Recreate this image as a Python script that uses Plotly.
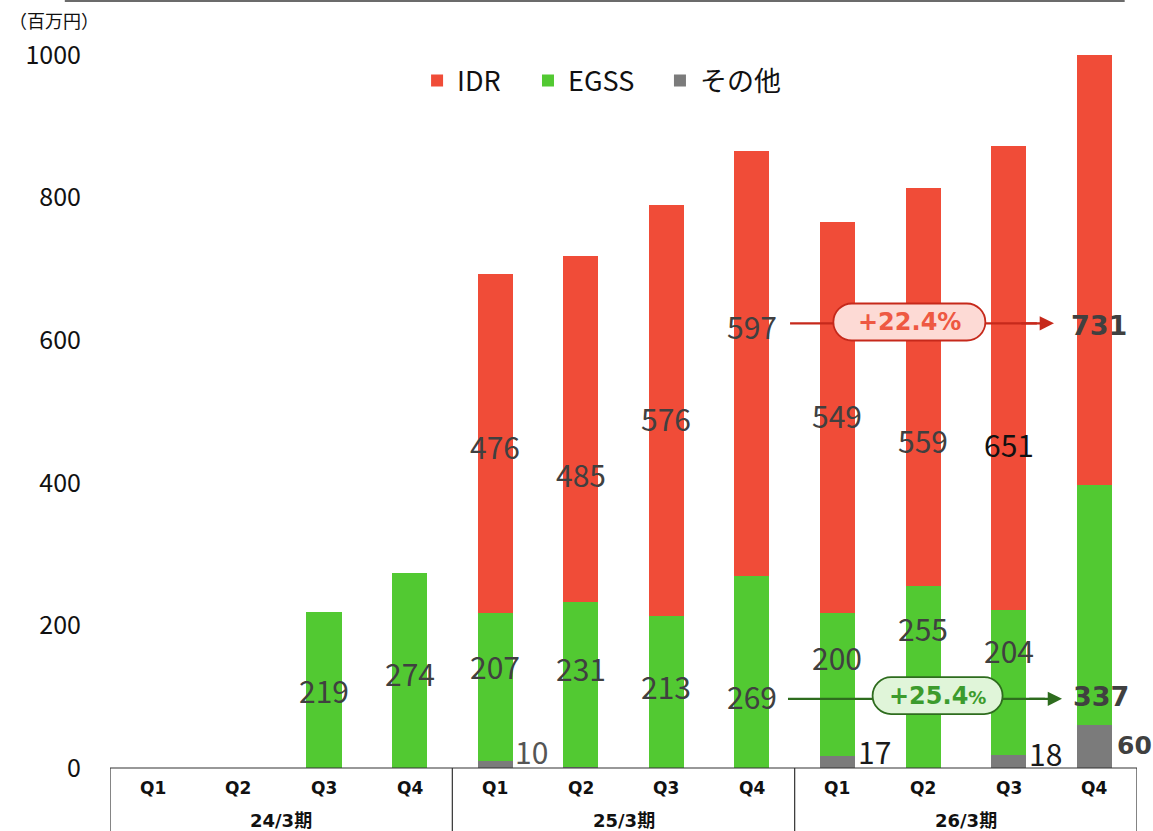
import plotly.graph_objects as go

# Quarterly revenue by segment (百万円)
quarters = ["Q1", "Q2", "Q3", "Q4"] * 3
periods = ["24/3期", "25/3期", "26/3期"]
idr = [0, 0, 0, 0, 476, 485, 576, 597, 549, 559, 651, 731]
egss = [0, 0, 219, 274, 207, 231, 213, 269, 200, 255, 204, 337]
other = [0, 0, 0, 0, 10, 2, 0, 0, 17, 0, 18, 60]

# growth callouts (Q4 25/3 -> Q4 26/3)
idr_growth = "+22.4%"
egss_growth = "+25.4"

# label placement (data units) for the segment values
idr_label_y = [None, None, None, None, 452, 412, 491, 620, 495, 460, 454, 620]
egss_label_y = [None, None, 109, 133, 143, 140, 115, 101, 156, 196, 165, 100]
other_label_y = [None, None, None, None, 24, None, None, None, 24, None, 21, 32]

C_IDR = "#f04c38"
C_EGSS = "#52c932"
C_OTHER = "#7b7b7b"
TXT = "#404040"
FONT = "Noto Sans CJK JP"
FONT_B = "DejaVu Sans"

x = list(range(len(quarters)))

fig = go.Figure()
fig.add_bar(x=x, y=other, name="その他", legend="legend3",
            marker=dict(color=C_OTHER, line=dict(width=0)), width=0.41)
fig.add_bar(x=x, y=egss, name="EGSS", legend="legend2",
            marker=dict(color=C_EGSS, line=dict(width=0)), width=0.41)
fig.add_bar(x=x, y=idr, name="IDR", legend="legend",
            marker=dict(color=C_IDR, line=dict(width=0)), width=0.41)

ann = []
shapes = []
last = len(x) - 1

# IDR labels
for i, (v, ly) in enumerate(zip(idr, idr_label_y)):
    if ly is None:
        continue
    if i == last:
        ann.append(dict(x=i + 0.06, y=ly, text=f"<b>{v}</b>", showarrow=False,
                        font=dict(family=FONT_B, size=27, color=TXT)))
    else:
        col = "#111111" if i == 10 else TXT
        ann.append(dict(x=i, y=ly, text=str(v), showarrow=False,
                        font=dict(family=FONT, size=30, color=col)))

# EGSS labels
for i, (v, ly) in enumerate(zip(egss, egss_label_y)):
    if ly is None:
        continue
    if i == last:
        ann.append(dict(x=i + 0.08, y=ly, text=f"<b>{v}</b>", showarrow=False,
                        font=dict(family=FONT_B, size=27, color=TXT)))
    else:
        ann.append(dict(x=i, y=ly, text=str(v), showarrow=False,
                        font=dict(family=FONT, size=30, color=TXT)))

# その他 labels, placed to the right of the bar
for i, (v, ly) in enumerate(zip(other, other_label_y)):
    if ly is None:
        continue
    if i == last:
        ann.append(dict(x=i + 0.47, y=ly, text=f"<b>{v}</b>", showarrow=False,
                        font=dict(family=FONT_B, size=25, color=TXT)))
    else:
        col = "#555555" if i == 4 else "#1a1a1a"
        ann.append(dict(x=i + 0.43, y=ly, text=str(v), showarrow=False,
                        font=dict(family=FONT, size=30, color=col)))


def pill_path(w, h):
    """Rounded-end capsule centred on the anchor, in pixels."""
    r = h / 2
    k = 0.5523 * r
    a = w / 2 - r
    return (f"M{-a},{r} L{a},{r} C{a + k},{r} {w / 2},{k} {w / 2},0 "
            f"C{w / 2},{-k} {a + k},{-r} {a},{-r} L{-a},{-r} "
            f"C{-a - k},{-r} {-w / 2},{-k} {-w / 2},0 C{-w / 2},{k} {-a - k},{r} {-a},{r} Z")


def growth_callout(x0, x1, y, px, py, pw, ph, line_col, fill_col, text, text_col):
    # shaft first, then the capsule over it, then the arrow head on top
    shapes.append(dict(type="line", xref="x", yref="y", x0=x0, x1=x1 - 0.2, y0=y, y1=y,
                       line=dict(color=line_col, width=2.2)))
    shapes.append(dict(type="path", xref="x", yref="y", xsizemode="pixel", ysizemode="pixel",
                       xanchor=px, yanchor=py, path=pill_path(pw, ph),
                       fillcolor=fill_col, line=dict(color=line_col, width=1.8)))
    ann.append(dict(x=x1, y=y, ax=x1 - 0.4, ay=y, xref="x", yref="y", axref="x", ayref="y",
                    text="", showarrow=True, arrowhead=2, arrowsize=1.3, arrowwidth=2.2,
                    arrowcolor=line_col, standoff=0))
    ann.append(dict(x=px, y=py, text=text, showarrow=False,
                    font=dict(family=FONT_B, size=24, color=text_col)))


growth_callout(7.446, 10.53, 623.7, 8.84, 625.5, 152, 37, "#c6291b", "#fddad5",
               f"<b>{idr_growth}</b>", "#ee5842")
growth_callout(7.422, 10.624, 97, 9.17, 101.5, 130, 37, "#2e6c1e", "#e0f5d9",
               f"<b>{egss_growth}<span style='font-size:18px'>%</span></b>", "#3c9b2d")

# category table under the axis
for i, q in enumerate(quarters):
    ann.append(dict(x=i, y=-0.028, xref="x", yref="paper", yanchor="middle",
                    text=f"<b>{q}</b>", showarrow=False,
                    font=dict(family=FONT_B, size=17, color="#111111")))
for k, p in enumerate(periods):
    ann.append(dict(x=4 * k + 1.5, y=-0.073, xref="x", yref="paper", yanchor="middle",
                    text=f"<b>{p}</b>", showarrow=False,
                    font=dict(family=f"{FONT_B}, {FONT}", size=18, color="#111111")))

ann.append(dict(x=-0.1, y=1.049, xref="paper", yref="paper", xanchor="left", yanchor="middle",
                text="（百万円）", showarrow=False,
                font=dict(family=FONT, size=18, color="#111111")))

for b in [-0.5, 3.5, 7.5, 11.5]:
    shapes.append(dict(type="line", xref="x", yref="paper", x0=b, x1=b, y0=0, y1=-0.1,
                       line=dict(color="#333333", width=1.2)))
shapes.append(dict(type="line", xref="x", yref="paper", x0=-0.5, x1=11.5, y0=0, y1=0,
                   line=dict(color="#333333", width=1.2)))
shapes.append(dict(type="line", xref="paper", yref="paper", x0=-0.044, x1=0.988,
                   y0=1.0757, y1=1.0757, line=dict(color="#6b6b6b", width=2)))

legend_style = dict(orientation="h", xanchor="left", y=0.9635, yanchor="middle",
                    font=dict(family=FONT, size=27, color="#111111"),
                    itemwidth=30, bgcolor="rgba(0,0,0,0)")

fig.update_layout(
    width=1153, height=831,
    margin=dict(l=110, r=16, t=55, b=63),
    barmode="stack",
    plot_bgcolor="white", paper_bgcolor="white",
    font=dict(family=FONT, color="#111111"),
    showlegend=True,
    legend=dict(x=0.299, **legend_style),
    legend2=dict(x=0.407, **legend_style),
    legend3=dict(x=0.5355, **legend_style),
    xaxis=dict(range=[-0.5, 11.5], showticklabels=False, showgrid=False, zeroline=False,
               showline=False, ticks=""),
    yaxis=dict(range=[0, 1000], tickvals=[0, 200, 400, 600, 800, 1000], showgrid=False,
               zeroline=False, showline=False, ticks="", ticklabelstandoff=28,
               tickfont=dict(family=FONT, size=25, color="#111111")),
    annotations=ann,
    shapes=shapes,
)

fig.write_html("out.html")
